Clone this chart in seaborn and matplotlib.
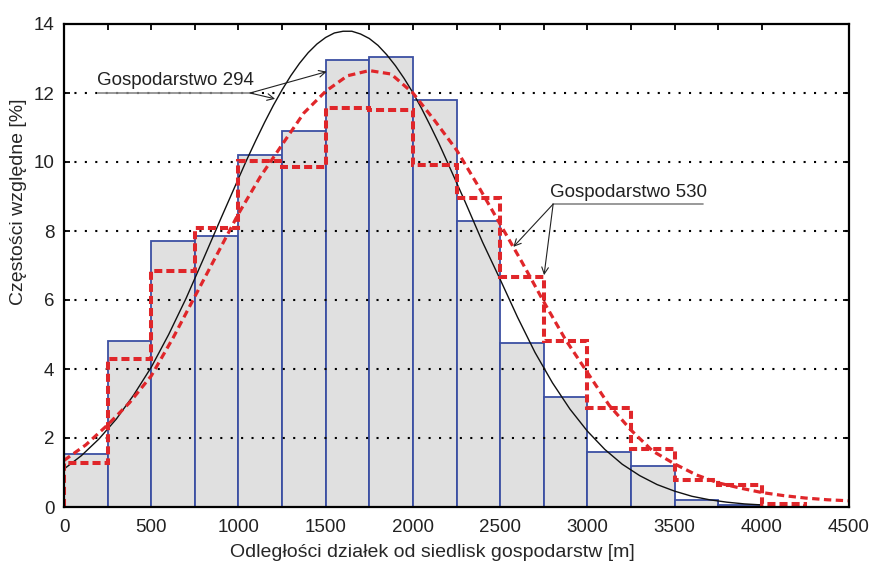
import numpy as np
import pandas as pd
import seaborn as sns
import matplotlib
matplotlib.use("Agg")
import matplotlib.pyplot as plt

# ---------------- data ----------------
bin_edges_294 = [0, 250, 500, 750, 1000, 1250, 1500, 1750, 2000, 2250, 2500,
                 2750, 3000, 3250, 3500, 3750, 4000]
freq_294 = [1.55, 4.8, 7.7, 7.85, 10.2, 10.9, 12.95, 13.05, 11.8, 8.3, 4.75,
            3.2, 1.6, 1.2, 0.2, 0.05]

bin_edges_530 = [0, 250, 500, 750, 1000, 1250, 1500, 1750, 2000, 2250, 2500,
                 2750, 3000, 3250, 3500, 3750, 4000, 4250]
freq_530 = [1.27, 4.29, 6.85, 8.1, 10.04, 9.85, 11.56, 11.5, 9.9, 8.95, 6.67,
            4.82, 2.88, 1.67, 0.79, 0.63, 0.09]

curve_294_x = [0, 100, 200, 300, 400, 500, 600, 700, 800, 900, 1000, 1050,
               1100, 1150, 1200, 1250, 1300, 1350, 1400, 1450, 1500, 1550,
               1600, 1650, 1700, 1750, 1800, 1850, 1900, 1950, 2000, 2050,
               2100, 2150, 2200, 2300, 2400, 2500, 2600, 2700, 2800, 2900,
               3000, 3100, 3200, 3300, 3400, 3500, 3600, 3700, 3800, 3900,
               4000]
curve_294_y = [1.10, 1.49, 1.97, 2.55, 3.25, 4.05, 5.0, 6.05, 7.2, 8.37, 9.52,
               10.09, 10.63, 11.15, 11.64, 12.09, 12.5, 12.86, 13.17, 13.42,
               13.61, 13.74, 13.79, 13.79, 13.71, 13.58, 13.38, 13.11, 12.79,
               12.42, 12.01, 11.55, 11.05, 10.53, 9.97, 8.84, 7.67, 6.6, 5.5,
               4.48, 3.6, 2.84, 2.2, 1.67, 1.24, 0.91, 0.65, 0.46, 0.31, 0.21,
               0.14, 0.09, 0.06]

curve_530_x = [0, 125, 250, 375, 500, 625, 750, 875, 1000, 1125, 1250, 1375,
               1500, 1625, 1750, 1875, 2000, 2125, 2250, 2375, 2500, 2625,
               2750, 2875, 3000, 3125, 3250, 3375, 3500, 3625, 3750, 3875,
               4000, 4125, 4250, 4375, 4500]
curve_530_y = [1.35, 1.8, 2.38, 3.02, 3.8, 4.9, 6.1, 7.3, 8.5, 9.57, 10.5,
               11.42, 12.05, 12.5, 12.65, 12.55, 12.0, 11.2, 10.35, 9.3, 8.2,
               7.1, 5.95, 4.85, 3.9, 2.95, 2.23, 1.62, 1.25, 0.93, 0.7, 0.55,
               0.42, 0.33, 0.26, 0.21, 0.18]

x_ticks = [0, 500, 1000, 1500, 2000, 2500, 3000, 3500, 4000, 4500]
y_ticks = [0, 2, 4, 6, 8, 10, 12, 14]

label_294 = "Gospodarstwo 294"
label_530 = "Gospodarstwo 530"
xlabel = "Odległości działek od siedlisk gospodarstw [m]"
ylabel = "Częstości względne [%]"

# ---------------- style ----------------
sns.set_style("ticks")
plt.rcParams['font.family'] = ['Liberation Sans', 'DejaVu Sans']
plt.rcParams['text.color'] = '#222222'

fig = plt.figure(figsize=(8.71, 5.62), dpi=100)
ax = fig.add_axes([64 / 871, 55 / 562, 785 / 871, 483 / 562])

centers = [(a + b) / 2 for a, b in zip(bin_edges_294[:-1], bin_edges_294[1:])]
df_bars = pd.DataFrame({"x": centers, "w": freq_294})
sns.histplot(data=df_bars, x="x", weights="w", bins=bin_edges_294,
             stat="count", color="#e0e0e0", edgecolor="#3b4fa3",
             linewidth=1.3, alpha=1, ax=ax, zorder=1)

df294 = pd.DataFrame({"x": curve_294_x, "y": curve_294_y})
sns.lineplot(data=df294, x="x", y="y", color="#111111", linewidth=1.0,
             ax=ax, zorder=3)

ax.stairs(freq_530, bin_edges_530, baseline=0, color="#e0262a",
          linewidth=2.9, linestyle=(0, (2.0, 1.0)), zorder=4)

df530 = pd.DataFrame({"x": curve_530_x, "y": curve_530_y})
sns.lineplot(data=df530, x="x", y="y", color="#e0262a", linewidth=2.3,
             linestyle=(0, (2.3, 1.4)), ax=ax, zorder=4)

# ---------------- grid / axes ----------------
ax.set_xlim(0, 4500)
ax.set_ylim(0, 14)
ax.set_xticks(x_ticks)
ax.set_xticks(bin_edges_294[1::2], minor=True)
ax.set_yticks(y_ticks)
ax.set_xticklabels([str(t) for t in x_ticks])
ax.set_yticklabels([str(t) for t in y_ticks])
for yv in y_ticks[1:-1]:
    ax.axhline(yv, color="black", linewidth=1.5, linestyle=(0, (1, 4)),
               zorder=2.5)
ax.tick_params(axis="both", which="both", direction="in", top=True,
               right=True, length=4, width=1.3, labelsize=13.5,
               colors="black", labelcolor="#222222")
ax.tick_params(axis="x", pad=9)
ax.tick_params(axis="y", pad=7)
for s in ax.spines.values():
    s.set_linewidth(1.6)
    s.set_color("black")
    s.set_zorder(6)

ax.set_xlabel(xlabel, fontsize=14)
ax.set_ylabel(ylabel, fontsize=14)
ax.xaxis.set_label_coords(0.469, -0.077)
ax.yaxis.set_label_coords(-0.047, 0.631)

# ---------------- annotations ----------------
ax.plot([195, 1067], [12.0, 12.0], color="#888888", linewidth=1.2, zorder=5)
ax.text(190, 12.23, label_294, fontsize=13.5, va="baseline", ha="left",
        zorder=7)
for tip in [(1506, 12.62), (1210, 11.83)]:
    ax.annotate("", xy=tip, xytext=(1067, 12.0),
                arrowprops=dict(arrowstyle="->", color="#222222", lw=0.8,
                                shrinkA=0, shrinkB=0, mutation_scale=12),
                zorder=7)

ax.plot([2804, 3664], [8.78, 8.78], color="#888888", linewidth=1.2, zorder=5)
ax.text(2787, 8.99, label_530, fontsize=13.5, va="baseline", ha="left",
        zorder=7)
for tip in [(2576, 7.54), (2752, 6.72)]:
    ax.annotate("", xy=tip, xytext=(2804, 8.78),
                arrowprops=dict(arrowstyle="->", color="#222222", lw=0.8,
                                shrinkA=0, shrinkB=0, mutation_scale=12),
                zorder=7)

fig.savefig("out.png", dpi=100)
